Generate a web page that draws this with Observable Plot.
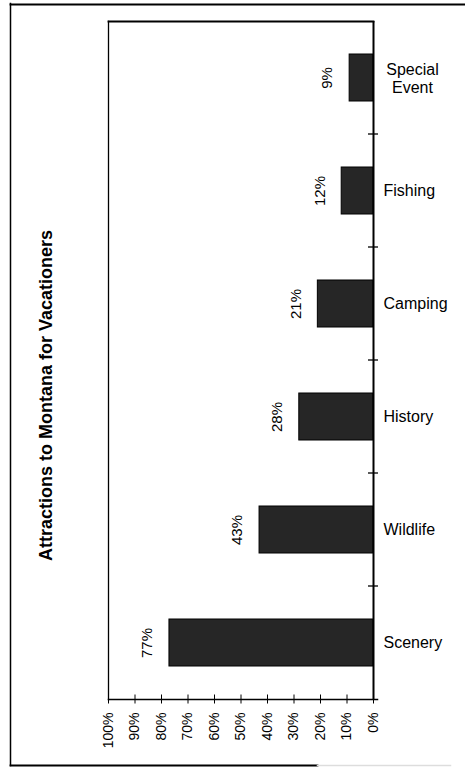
<!DOCTYPE html>
<html>
<head>
<meta charset="utf-8">
<script src="https://cdn.jsdelivr.net/npm/d3@7"></script>
<script src="https://cdn.jsdelivr.net/npm/@observablehq/plot@0.6"></script>
<style>
  html, body { margin: 0; padding: 0; background: #fff; }
  #chart { width: 465px; height: 768px; }
  svg { font-family: "Liberation Sans", Arial, Helvetica, sans-serif; }
</style>
</head>
<body>
<div id="chart"></div>
<script>
// Share of vacationers citing each attraction (percent)
const title = "Attractions to Montana for Vacationers";
const categories = ["Special Event", "Fishing", "Camping", "History", "Wildlife", "Scenery"];
const values = [9, 12, 21, 28, 43, 77];
const xTicks = [0, 10, 20, 30, 40, 50, 60, 70, 80, 90, 100];

const data = categories.map((name, i) => ({name, value: values[i]}));

// small crossing tick marks on the category axis, at the boundaries between bands
function bandBoundaryTicks(cats) {
  return (index, scales) => {
    const y = scales.y;
    const bw = typeof y.bandwidth === "function" ? y.bandwidth() : scales.scales.y.bandwidth;
    const step = typeof y.step === "function" ? y.step() : scales.scales.y.step;
    const x0 = scales.x(0);
    const g = d3.create("svg:g").attr("stroke", "#000").attr("stroke-width", 1.3);
    cats.slice(1).forEach(c => {
      const yy = y(c) - (step - bw) / 2;
      g.append("line").attr("x1", x0 - 5).attr("x2", x0 + 5).attr("y1", yy).attr("y2", yy);
    });
    return g.node();
  };
}

const single = categories.filter(c => !c.includes(" "));
const multi = categories.filter(c => c.includes(" "));

const chart = Plot.plot({
  width: 465,
  height: 768,
  marginLeft: 108,
  marginRight: 92,
  marginTop: 21,
  marginBottom: 69,
  style: {fontFamily: "'Liberation Sans', Arial, sans-serif", color: "#000", background: "#fff"},
  x: {domain: [0, 100], reverse: true, axis: null},
  y: {domain: categories, paddingInner: 0.585, paddingOuter: 0.2925, axis: null},
  marks: [
    // page border
    Plot.frame({anchor: "left", insetLeft: -98, insetTop: -18, insetBottom: -66, stroke: "#000", strokeWidth: 1.5}),
    Plot.frame({anchor: "top", insetTop: -17, insetLeft: -98, insetRight: -95, stroke: "#000", strokeWidth: 1.8}),
    Plot.frame({anchor: "bottom", insetBottom: -66, insetLeft: -98, insetRight: 56, stroke: "#000", strokeWidth: 1.8}),
    Plot.frame({anchor: "bottom", insetBottom: -66, insetLeft: 209, insetRight: -77, stroke: "#ddd", strokeWidth: 1.5}),
    // plot area box
    Plot.frame({anchor: "left", stroke: "#000", strokeWidth: 1.3}),
    Plot.frame({anchor: "top", stroke: "#000", strokeWidth: 1.8}),
    // bars
    Plot.barX(data, {x: "value", y: "name", fill: "#262626", stroke: "#000", strokeWidth: 1}),
    // value axis
    Plot.frame({anchor: "bottom", insetRight: -4, stroke: "#000", strokeWidth: 1.5}),
    Plot.ruleX([0], {stroke: "#000", strokeWidth: 2}),
    Plot.axisX({ticks: xTicks, anchor: "bottom", tickSize: 9, dy: -4.5, tickFormat: () => "", label: null}),
    Plot.axisX({ticks: xTicks, anchor: "bottom", tickSize: 0, tickPadding: 13, tickRotate: -90,
      tickFormat: d => d + "%", fontSize: 14, label: null}),
    bandBoundaryTicks(categories),
    // category labels
    Plot.text(single, {y: d => d, frameAnchor: "right", dx: 10, textAnchor: "start", fontSize: 16, fill: "#000"}),
    Plot.text(multi, {y: d => d, text: d => d.replace(" ", "\n"), frameAnchor: "right", dx: 39,
      textAnchor: "middle", lineHeight: 1.13, fontSize: 16, fill: "#000"}),
    // value labels
    Plot.text(data, {x: "value", y: "name", text: d => d.value + "%", rotate: -90, dx: -22, fontSize: 15, fill: "#000"}),
    // title
    Plot.text([title], {frameAnchor: "left", textAnchor: "middle", dx: -62, dy: 35, rotate: -90,
      fontSize: 18, fontWeight: "bold", fill: "#000"})
  ]
});

document.getElementById("chart").append(chart);
</script>
</body>
</html>
